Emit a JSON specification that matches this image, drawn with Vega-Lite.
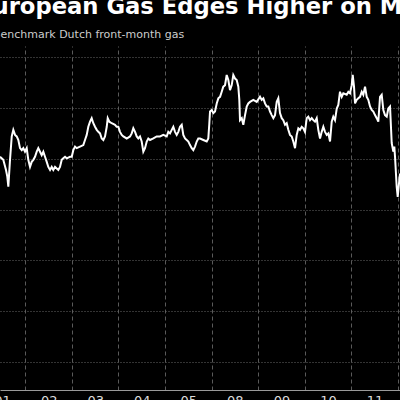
{
  "$schema": "https://vega.github.io/schema/vega-lite/v6.json",
  "width": 400,
  "height": 344,
  "autosize": {"type": "none"},
  "padding": {"left": 0, "top": 46, "right": 0, "bottom": 10},
  "background": "#000000",
  "config": {"view": {"stroke": null}},
  "title": {
    "text": "European Gas Edges Higher on Middle East Risk",
    "anchor": "start",
    "dx": -15.5,
    "offset": 9,
    "font": "DejaVu Sans",
    "fontSize": 22.7,
    "fontWeight": "bold",
    "color": "#ffffff"
  },
  "data": {
    "values": [
      {"t":0.455,"v":28.04},{"t":0.526,"v":27.98},{"t":0.584,"v":27.78},{"t":0.612,"v":27.65},{"t":0.634,"v":27.45},
      {"t":0.670,"v":27.98},{"t":0.707,"v":28.44},{"t":0.741,"v":28.57},{"t":0.778,"v":28.47},{"t":0.814,"v":28.44},
      {"t":0.849,"v":28.37},{"t":0.885,"v":28.21},{"t":0.922,"v":28.17},{"t":0.956,"v":28.21},{"t":0.992,"v":28.14},
      {"t":1.029,"v":28.21},{"t":1.063,"v":27.98},{"t":1.100,"v":27.84},{"t":1.136,"v":27.94},{"t":1.171,"v":27.98},
      {"t":1.207,"v":28.04},{"t":1.244,"v":28.14},{"t":1.278,"v":28.21},{"t":1.315,"v":28.14},{"t":1.351,"v":28.07},
      {"t":1.386,"v":28.14},{"t":1.422,"v":28.04},{"t":1.459,"v":27.94},{"t":1.493,"v":27.84},{"t":1.530,"v":27.78},
      {"t":1.566,"v":27.84},{"t":1.600,"v":27.78},{"t":1.637,"v":27.84},{"t":1.673,"v":27.81},{"t":1.708,"v":27.78},
      {"t":1.744,"v":27.84},{"t":1.781,"v":27.98},{"t":1.815,"v":28.01},{"t":1.852,"v":28.04},{"t":1.888,"v":28.01},
      {"t":1.959,"v":28.04},{"t":1.996,"v":28.04},{"t":2.030,"v":28.17},{"t":2.067,"v":28.24},{"t":2.103,"v":28.21},
      {"t":2.174,"v":28.24},{"t":2.245,"v":28.27},{"t":2.281,"v":28.37},{"t":2.318,"v":28.47},{"t":2.352,"v":28.63},
      {"t":2.389,"v":28.73},{"t":2.425,"v":28.80},{"t":2.460,"v":28.70},{"t":2.496,"v":28.63},{"t":2.533,"v":28.57},
      {"t":2.567,"v":28.53},{"t":2.604,"v":28.50},{"t":2.640,"v":28.40},{"t":2.675,"v":28.37},{"t":2.711,"v":28.44},
      {"t":2.748,"v":28.63},{"t":2.769,"v":28.80},{"t":2.803,"v":28.73},{"t":2.855,"v":28.70},{"t":2.926,"v":28.67},
      {"t":2.962,"v":28.63},{"t":2.997,"v":28.63},{"t":3.033,"v":28.53},{"t":3.070,"v":28.47},{"t":3.104,"v":28.44},
      {"t":3.177,"v":28.40},{"t":3.248,"v":28.44},{"t":3.285,"v":28.50},{"t":3.319,"v":28.60},{"t":3.356,"v":28.53},
      {"t":3.392,"v":28.44},{"t":3.426,"v":28.40},{"t":3.463,"v":28.44},{"t":3.499,"v":28.34},{"t":3.534,"v":28.14},
      {"t":3.570,"v":28.21},{"t":3.607,"v":28.34},{"t":3.641,"v":28.40},{"t":3.678,"v":28.37},{"t":3.749,"v":28.40},
      {"t":3.822,"v":28.44},{"t":3.893,"v":28.44},{"t":3.963,"v":28.47},{"t":4.036,"v":28.44},{"t":4.071,"v":28.53},
      {"t":4.107,"v":28.50},{"t":4.144,"v":28.57},{"t":4.178,"v":28.63},{"t":4.215,"v":28.53},{"t":4.251,"v":28.47},
      {"t":4.286,"v":28.53},{"t":4.322,"v":28.63},{"t":4.359,"v":28.67},{"t":4.393,"v":28.47},{"t":4.430,"v":28.40},
      {"t":4.466,"v":28.37},{"t":4.501,"v":28.34},{"t":4.537,"v":28.27},{"t":4.574,"v":28.21},{"t":4.608,"v":28.17},
      {"t":4.644,"v":28.24},{"t":4.681,"v":28.34},{"t":4.715,"v":28.40},{"t":4.752,"v":28.40},{"t":4.823,"v":28.37},
      {"t":4.896,"v":28.34},{"t":4.930,"v":28.40},{"t":4.952,"v":28.70},{"t":4.967,"v":28.93},{"t":5.003,"v":28.96},
      {"t":5.038,"v":28.90},{"t":5.074,"v":28.93},{"t":5.111,"v":29.09},{"t":5.145,"v":29.19},{"t":5.182,"v":29.22},
      {"t":5.218,"v":29.32},{"t":5.252,"v":29.42},{"t":5.289,"v":29.45},{"t":5.325,"v":29.65},{"t":5.360,"v":29.55},
      {"t":5.396,"v":29.35},{"t":5.433,"v":29.45},{"t":5.467,"v":29.65},{"t":5.504,"v":29.58},{"t":5.540,"v":29.55},
      {"t":5.575,"v":29.42},{"t":5.596,"v":29.16},{"t":5.611,"v":28.76},{"t":5.648,"v":28.80},{"t":5.682,"v":28.67},
      {"t":5.719,"v":28.86},{"t":5.755,"v":29.03},{"t":5.789,"v":29.09},{"t":5.826,"v":29.12},{"t":5.897,"v":29.16},
      {"t":5.970,"v":29.12},{"t":6.041,"v":29.22},{"t":6.077,"v":29.16},{"t":6.112,"v":29.19},{"t":6.148,"v":29.09},
      {"t":6.185,"v":29.03},{"t":6.219,"v":29.03},{"t":6.256,"v":28.93},{"t":6.292,"v":28.86},{"t":6.327,"v":28.80},
      {"t":6.363,"v":28.86},{"t":6.400,"v":29.12},{"t":6.434,"v":29.19},{"t":6.470,"v":28.90},{"t":6.507,"v":28.80},
      {"t":6.541,"v":28.76},{"t":6.578,"v":28.67},{"t":6.614,"v":28.70},{"t":6.649,"v":28.57},{"t":6.685,"v":28.47},
      {"t":6.722,"v":28.44},{"t":6.756,"v":28.34},{"t":6.793,"v":28.21},{"t":6.829,"v":28.47},{"t":6.864,"v":28.60},
      {"t":6.900,"v":28.57},{"t":6.937,"v":28.63},{"t":6.971,"v":28.60},{"t":7.007,"v":28.53},{"t":7.044,"v":28.80},
      {"t":7.078,"v":28.83},{"t":7.115,"v":28.76},{"t":7.151,"v":28.80},{"t":7.186,"v":28.76},{"t":7.222,"v":28.73},
      {"t":7.259,"v":28.80},{"t":7.293,"v":28.57},{"t":7.330,"v":28.40},{"t":7.366,"v":28.53},{"t":7.401,"v":28.63},
      {"t":7.437,"v":28.53},{"t":7.474,"v":28.47},{"t":7.508,"v":28.50},{"t":7.545,"v":28.34},{"t":7.581,"v":28.73},
      {"t":7.615,"v":28.83},{"t":7.652,"v":28.76},{"t":7.689,"v":28.99},{"t":7.723,"v":29.06},{"t":7.759,"v":29.32},
      {"t":7.796,"v":29.22},{"t":7.830,"v":29.29},{"t":7.903,"v":29.26},{"t":7.938,"v":29.32},{"t":7.974,"v":29.29},
      {"t":8.011,"v":29.45},{"t":8.032,"v":29.65},{"t":8.060,"v":29.42},{"t":8.082,"v":29.09},{"t":8.118,"v":29.16},
      {"t":8.153,"v":29.19},{"t":8.189,"v":29.22},{"t":8.226,"v":29.32},{"t":8.260,"v":29.26},{"t":8.297,"v":29.42},
      {"t":8.333,"v":29.22},{"t":8.367,"v":29.16},{"t":8.404,"v":29.03},{"t":8.440,"v":28.96},{"t":8.475,"v":28.93},
      {"t":8.511,"v":28.86},{"t":8.548,"v":28.80},{"t":8.582,"v":28.73},{"t":8.619,"v":29.22},{"t":8.655,"v":29.26},
      {"t":8.690,"v":28.96},{"t":8.726,"v":28.86},{"t":8.763,"v":28.83},{"t":8.797,"v":28.99},{"t":8.834,"v":29.03},
      {"t":8.870,"v":28.31},{"t":8.904,"v":28.14},{"t":8.926,"v":28.24},{"t":8.941,"v":28.04},{"t":8.977,"v":27.45},
      {"t":8.999,"v":27.25},{"t":9.027,"v":27.52},{"t":9.048,"v":27.71}
    ]
  },
  "resolve": {"axis": {"x": "independent"}},
  "layer": [
    {
      "mark": {"type": "line", "color": "#ffffff", "strokeWidth": 2, "interpolate": "linear", "clip": true},
      "encoding": {
        "x": {
          "field": "t", "type": "quantitative",
          "scale": {"domain": [0.455, 9.048], "nice": false, "zero": false},
          "axis": {
            "orient": "bottom",
            "values": [0.5, 1.5, 2.5, 3.5, 4.5, 5.5, 6.5, 7.5, 8.5],
            "labelExpr": "['01','02','03','04','05','08','09','10','11'][floor(datum.value)]",
            "grid": false, "ticks": false,
            "domain": true, "domainColor": "#9a9a9a", "domainWidth": 1,
            "labelColor": "#dddddd", "labelFont": "DejaVu Sans", "labelFontSize": 13,
            "labelPadding": 4, "labelBaseline": "top", "labelOverlap": false,
            "title": null
          }
        },
        "y": {
          "field": "v", "type": "quantitative",
          "scale": {"domain": [23.45, 30.22], "nice": false, "zero": false},
          "axis": {
            "orient": "right",
            "values": [24, 25, 26, 27, 28, 29, 30],
            "grid": true, "gridColor": "#666666", "gridDash": [1, 2], "gridWidth": 1,
            "ticks": false, "domain": false, "labels": false,
            "title": null
          }
        }
      }
    },
    {
      "mark": {"type": "line", "opacity": 0, "clip": true},
      "encoding": {
        "x": {
          "field": "t", "type": "quantitative",
          "scale": {"domain": [0.455, 9.048], "nice": false, "zero": false},
          "axis": {
            "orient": "top",
            "values": [1, 2, 3, 4, 5, 6, 7, 8, 9],
            "grid": true, "gridColor": "#5a5a5a", "gridDash": [4, 3], "gridWidth": 1,
            "ticks": false, "labels": false, "domain": false,
            "title": "Benchmark Dutch front-month gas",
            "titleAnchor": "start", "titleAlign": "left", "titleBaseline": "alphabetic",
            "titleX": -7.5, "titleY": -9,
            "titleFont": "DejaVu Sans", "titleFontSize": 11, "titleFontWeight": "normal",
            "titleColor": "#cccccc"
          }
        },
        "y": {"field": "v", "type": "quantitative"}
      }
    }
  ]
}
